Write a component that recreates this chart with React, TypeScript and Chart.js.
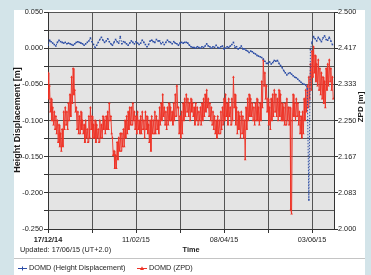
import { useEffect, useRef } from 'react';
import { Chart, registerables } from 'chart.js';

Chart.register(...registerables);

const FONT = '"Liberation Sans", Arial, sans-serif';

// X axis: days since 17/12/14
const X_MIN = 0;
const X_MAX = 182;
const X_TICK_DAYS = [0, 28, 56, 84, 112, 140, 168];
const X_LABEL_DAYS = [0, 56, 112, 168];
const X_LABEL_TEXT = ['17/12/14', '11/02/15', '08/04/15', '03/06/15'];

// Left axis (height displacement, m)
const LEFT_GRID = [-0.25, -0.225, -0.2, -0.175, -0.15, -0.125, -0.1, -0.075, -0.05, -0.025, 0, 0.025, 0.05];
// Right axis (ZPD, m)
const RIGHT_TICKS = [2.0, 2.08333, 2.16667, 2.25, 2.33333, 2.41667, 2.5];
const RIGHT_LABELS = ['2.000', '2.083', '2.167', '2.250', '2.333', '2.417', '2.500'];

const Y_TITLE = 'Height Displacement [m]';
const Y2_TITLE = 'ZPD [m]';
const X_TITLE = 'Time';
const UPDATED = 'Updated: 17/06/15 (UT+2.0)';
const SERIES_NAMES = ['DOMD (Height Displacement)', 'DOMD (ZPD)'];

// Daily height displacement (day 0..181)
const HEIGHT = [
  0.004, 0.011, 0.009, 0.007, 0.005, 0.003, 0.008, 0.011, 0.009, 0.008,
  0.007, 0.008, 0.006, 0.007, 0.006, 0.005, 0.004, 0.006, 0.008, 0.009,
  0.008, 0.007, 0.006, 0.004, 0.006, 0.008, 0.010, 0.014, 0.009, 0.005,
  0.001, 0.004, 0.008, 0.012, 0.015, 0.011, 0.008, 0.010, 0.013, 0.009,
  0.006, 0.004, 0.008, 0.012, 0.009, 0.007, 0.016, 0.006, 0.009, 0.008,
  0.006, 0.004, 0.007, 0.010, 0.008, 0.006, 0.009, 0.007, 0.005, 0.007,
  0.011, 0.008, 0.005, 0.002, 0.005, 0.010, 0.011, 0.009, 0.008, 0.012,
  0.010, 0.010, 0.006, 0.008, 0.005, 0.008, 0.011, 0.009, 0.008, 0.006,
  0.009, 0.007, 0.006, 0.004, 0.007, 0.008, 0.007, 0.008, 0.008, 0.007,
  0.004, 0.002, 0.001, 0.001, 0.000, 0.002, 0.001, 0.000, 0.002, 0.001,
  0.003, 0.006, 0.003, 0.002, 0.000, 0.002, 0.001, 0.004, 0.001, 0.000,
  0.002, 0.003, -0.001, 0.000, 0.002, 0.001, 0.003, 0.005, 0.008, 0.001,
  0.002, -0.001, 0.000, 0.003, -0.001, -0.001, -0.003, -0.004, -0.006, -0.004,
  -0.005, -0.007, -0.008, -0.010, -0.011, -0.012, -0.013, -0.015, -0.018, -0.021,
  -0.021, -0.019, -0.022, -0.020, -0.017, -0.018, -0.017, -0.021, -0.024, -0.027,
  -0.031, -0.034, -0.037, -0.035, -0.034, -0.036, -0.038, -0.040, -0.041, -0.043,
  -0.045, -0.047, -0.049, -0.050, -0.051, -0.056, -0.210, -0.002, 0.008, 0.016,
  0.013, 0.010, 0.015, 0.012, 0.009, 0.014, 0.017, 0.012, 0.011, 0.015, 0.010, 0.005,
];

// ZPD, first sample of each day (day 0..181)
const ZPD_A = [
  2.36, 2.33, 2.30, 2.28, 2.27, 2.26, 2.25, 2.24, 2.22, 2.23,
  2.27, 2.28, 2.27, 2.29, 2.31, 2.35, 2.37, 2.32, 2.28, 2.27,
  2.26, 2.27, 2.25, 2.24, 2.25, 2.23, 2.26, 2.28, 2.26, 2.24,
  2.25, 2.24, 2.23, 2.25, 2.24, 2.26, 2.25, 2.26, 2.27, 2.29,
  2.26, 2.21, 2.18, 2.17, 2.20, 2.21, 2.22, 2.22, 2.23, 2.25,
  2.26, 2.27, 2.28, 2.28, 2.29, 2.27, 2.26, 2.27, 2.25, 2.26,
  2.27, 2.25, 2.27, 2.26, 2.24, 2.25, 2.26, 2.25, 2.27, 2.26,
  2.25, 2.28, 2.29, 2.31, 2.28, 2.27, 2.28, 2.29, 2.28, 2.27,
  2.29, 2.31, 2.33, 2.28, 2.26, 2.27, 2.29, 2.30, 2.31, 2.30,
  2.29, 2.30, 2.29, 2.28, 2.29, 2.28, 2.27, 2.28, 2.29, 2.30,
  2.31, 2.32, 2.30, 2.29, 2.28, 2.27, 2.26, 2.25, 2.26, 2.25,
  2.27, 2.28, 2.30, 2.31, 2.29, 2.30, 2.28, 2.30, 2.35, 2.31,
  2.28, 2.27, 2.26, 2.27, 2.26, 2.25, 2.28, 2.30, 2.31, 2.30,
  2.29, 2.28, 2.29, 2.30, 2.28, 2.29, 2.34, 2.39, 2.36, 2.33,
  2.30, 2.28, 2.30, 2.31, 2.32, 2.31, 2.30, 2.32, 2.31, 2.29,
  2.28, 2.29, 2.30, 2.28, 2.28, 2.035, 2.31, 2.29, 2.30, 2.29,
  2.27, 2.26, 2.27, 2.30, 2.32, 2.33, 2.35, 2.38, 2.41, 2.42,
  2.40, 2.38, 2.39, 2.37, 2.36, 2.35, 2.34, 2.37, 2.38, 2.39, 2.37, 2.35,
];

// ZPD, second sample of each day (day 0..181)
const ZPD_B = [
  2.30, 2.27, 2.25, 2.24, 2.23, 2.22, 2.20, 2.19, 2.18, 2.19,
  2.23, 2.24, 2.23, 2.25, 2.26, 2.29, 2.31, 2.27, 2.23, 2.22,
  2.22, 2.23, 2.22, 2.20, 2.21, 2.20, 2.21, 2.23, 2.21, 2.21,
  2.20, 2.21, 2.20, 2.21, 2.21, 2.23, 2.22, 2.23, 2.23, 2.25,
  2.22, 2.17, 2.14, 2.14, 2.16, 2.18, 2.18, 2.19, 2.19, 2.21,
  2.22, 2.23, 2.24, 2.24, 2.25, 2.23, 2.22, 2.23, 2.22, 2.22,
  2.23, 2.21, 2.23, 2.22, 2.20, 2.18, 2.22, 2.22, 2.22, 2.23,
  2.22, 2.24, 2.25, 2.26, 2.24, 2.23, 2.24, 2.25, 2.25, 2.24,
  2.25, 2.26, 2.28, 2.22, 2.21, 2.22, 2.25, 2.26, 2.27, 2.26,
  2.25, 2.27, 2.26, 2.24, 2.25, 2.24, 2.25, 2.24, 2.25, 2.26,
  2.27, 2.28, 2.26, 2.25, 2.24, 2.23, 2.22, 2.21, 2.22, 2.22,
  2.23, 2.24, 2.25, 2.26, 2.24, 2.26, 2.24, 2.25, 2.28, 2.24,
  2.22, 2.23, 2.21, 2.22, 2.21, 2.16, 2.23, 2.25, 2.26, 2.26,
  2.25, 2.24, 2.25, 2.25, 2.24, 2.25, 2.28, 2.33, 2.30, 2.27,
  2.24, 2.23, 2.25, 2.26, 2.27, 2.26, 2.25, 2.26, 2.25, 2.25,
  2.24, 2.24, 2.25, 2.24, 2.045, 2.25, 2.26, 2.25, 2.26, 2.24,
  2.22, 2.21, 2.22, 2.25, 2.27, 2.28, 2.30, 2.32, 2.35, 2.36,
  2.34, 2.33, 2.32, 2.31, 2.30, 2.29, 2.28, 2.32, 2.33, 2.34, 2.32, 2.30,
];

const BLUE = '#2d4ea6';
const RED = '#ee3226';
const GRID = '#545454';

const decor = {
  id: 'decor',
  beforeDraw(chart: any) {
    const { ctx, chartArea: a } = chart;
    ctx.save();
    ctx.fillStyle = '#e4e4e4';
    ctx.fillRect(a.left, a.top, a.right - a.left, a.bottom - a.top);
    ctx.restore();
  },
  afterDraw(chart: any) {
    const ctx = chart.ctx;
    ctx.save();
    ctx.fillStyle = '#1a1a1a';
    ctx.textAlign = 'center';
    ctx.textBaseline = 'middle';

    ctx.save();
    ctx.translate(17.5, 120);
    ctx.rotate(-Math.PI / 2);
    ctx.font = `bold 9px ${FONT}`;
    ctx.fillText(Y_TITLE, 0, 0);
    ctx.restore();

    ctx.save();
    ctx.translate(361, 107);
    ctx.rotate(-Math.PI / 2);
    ctx.font = `bold 8px ${FONT}`;
    ctx.fillText(Y2_TITLE, 0, 0);
    ctx.restore();

    ctx.font = `bold 7.3px ${FONT}`;
    ctx.fillText(X_TITLE, 191, 250);

    ctx.textAlign = 'left';
    ctx.font = `7.3px ${FONT}`;
    ctx.fillStyle = '#222';
    ctx.fillText(UPDATED, 20, 250);

    ctx.strokeStyle = '#c4c4c4';
    ctx.lineWidth = 1;
    ctx.beginPath();
    ctx.moveTo(14, 258.5);
    ctx.lineTo(365, 258.5);
    ctx.stroke();

    // legend
    const ly = 268.5;
    ctx.strokeStyle = BLUE;
    ctx.beginPath();
    ctx.moveTo(18, ly);
    ctx.lineTo(27, ly);
    ctx.moveTo(22.5, ly - 2);
    ctx.lineTo(22.5, ly + 2);
    ctx.stroke();
    ctx.fillStyle = '#222';
    ctx.fillText(SERIES_NAMES[0], 29, 268);

    ctx.strokeStyle = RED;
    ctx.beginPath();
    ctx.moveTo(137, ly);
    ctx.lineTo(147, ly);
    ctx.stroke();
    ctx.fillStyle = RED;
    ctx.beginPath();
    ctx.moveTo(142, ly - 2.2);
    ctx.lineTo(144, ly + 1.5);
    ctx.lineTo(140, ly + 1.5);
    ctx.closePath();
    ctx.fill();
    ctx.fillStyle = '#222';
    ctx.fillText(SERIES_NAMES[1], 149, 268);
    ctx.restore();
  },
};

export default function App() {
  const ref = useRef<HTMLCanvasElement>(null);

  useEffect(() => {
    if (!ref.current) return;
    const heightData = HEIGHT.map((v, i) => ({ x: i, y: v }));
    const zpdData: { x: number; y: number }[] = [];
    ZPD_A.forEach((v, i) => {
      zpdData.push({ x: i, y: v });
      zpdData.push({ x: i + 0.5, y: ZPD_B[i] });
    });

    const tickFont = { family: FONT, size: 7.3 };

    const chart = new Chart(ref.current, {
      type: 'line',
      data: {
        datasets: [
          {
            label: SERIES_NAMES[0],
            data: heightData,
            yAxisID: 'y',
            borderColor: BLUE,
            backgroundColor: BLUE,
            borderWidth: 1,
            borderDash: [1.5, 1.5],
            pointStyle: 'rect',
            pointRadius: 1.1,
            pointBorderWidth: 0,
            tension: 0,
          },
          {
            label: SERIES_NAMES[1],
            data: zpdData,
            yAxisID: 'y2',
            borderColor: RED,
            backgroundColor: RED,
            borderWidth: 0.9,
            pointStyle: 'triangle',
            pointRadius: 1.5,
            pointBorderWidth: 0,
            tension: 0,
          },
        ],
      },
      options: {
        responsive: false,
        animation: false,
        devicePixelRatio: 1,
        layout: { padding: { top: 12, left: 0, right: 0, bottom: 0 } },
        plugins: { legend: { display: false }, tooltip: { enabled: false } },
        scales: {
          x: {
            type: 'linear',
            min: X_MIN,
            max: X_MAX,
            afterBuildTicks: (s: any) => {
              s.ticks = X_TICK_DAYS.map((v) => ({ value: v }));
            },
            afterFit: (s: any) => {
              s.height = 46;
            },
            ticks: {
              autoSkip: false,
              maxRotation: 0,
              padding: 3,
              color: '#222',
              font: (c: any) => ({ ...tickFont, weight: c.tick && c.tick.value === 0 ? 'bold' : 'normal' }),
              callback: (v: any) => {
                const i = X_LABEL_DAYS.indexOf(Number(v));
                return i >= 0 ? X_LABEL_TEXT[i] : '';
              },
            },
            grid: { color: GRID, lineWidth: 1, tickLength: 4, tickColor: '#333' },
            border: { color: '#333' },
          },
          y: {
            position: 'left',
            min: -0.25,
            max: 0.05,
            afterBuildTicks: (s: any) => {
              s.ticks = LEFT_GRID.map((v) => ({ value: v }));
            },
            afterFit: (s: any) => {
              s.width = 48;
            },
            ticks: {
              padding: 1,
              color: '#222',
              font: tickFont,
              callback: (v: any, i: number) => (i % 2 === 0 ? Number(v).toFixed(3) : ''),
            },
            grid: { color: GRID, lineWidth: 1, tickLength: 4, tickColor: '#333' },
            border: { color: '#333' },
          },
          y2: {
            position: 'right',
            min: 2.0,
            max: 2.5,
            afterBuildTicks: (s: any) => {
              s.ticks = RIGHT_TICKS.map((v) => ({ value: v }));
            },
            afterFit: (s: any) => {
              s.width = 37;
            },
            ticks: {
              padding: 0,
              color: '#222',
              font: tickFont,
              callback: (_v: any, i: number) => RIGHT_LABELS[i],
            },
            grid: { drawOnChartArea: false, tickLength: 4, tickColor: '#333' },
            border: { color: '#333' },
          },
        },
      },
      plugins: [decor],
    } as any);

    return () => chart.destroy();
  }, []);

  return (
    <div
      style={{
        position: 'fixed',
        left: 0,
        top: 0,
        width: 371,
        height: 275,
        background: '#d3e4e9',
        overflow: 'hidden',
      }}
    >
      <div style={{ position: 'absolute', left: 14, top: 10, width: 351, height: 265, background: '#ffffff' }} />
      <canvas ref={ref} width={371} height={275} style={{ position: 'absolute', left: 0, top: 0 }} />
    </div>
  );
}
